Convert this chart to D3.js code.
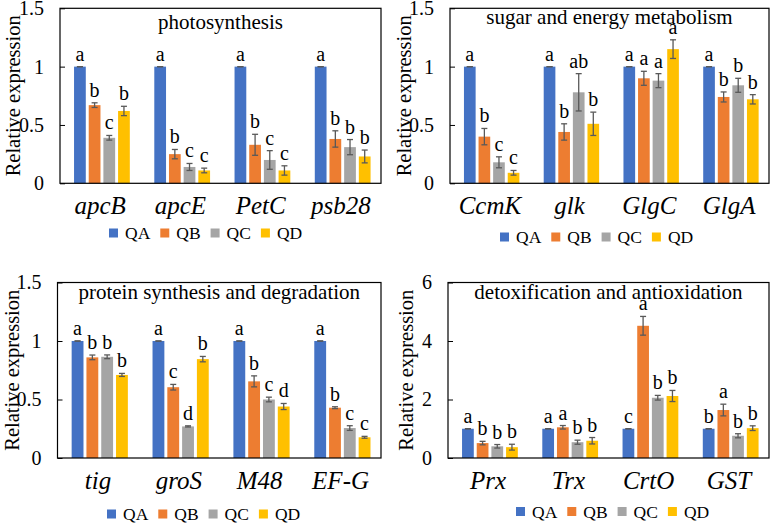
<!DOCTYPE html>
<html lang="en">
  <head>
    <meta charset="utf-8" />
    <script src="https://d3js.org/d3.v7.min.js"></script>
    <style>
      body {
        margin: 0;
        background-color: #fff;
      }
    </style>
  </head>
  <body>
    <div id="chart"></div>

    <script>
      const width = 777;
      const height = 523;
      const serif = '"Liberation Serif", "Times New Roman", serif';

      const treatments = ["QA", "QB", "QC", "QD"];
      const colors = ["#4472c4", "#ed7d31", "#a5a5a5", "#ffc000"];

      // photosynthesis
      const photoGenes = ["apcB", "apcE", "PetC", "psb28"];
      const photoMeans = [
        [1, 0.67, 0.39, 0.62],
        [1, 0.25, 0.14, 0.11],
        [1, 0.33, 0.2, 0.11],
        [1, 0.38, 0.31, 0.23]
      ];
      const photoErrs = [
        [0, 0.02, 0.02, 0.04],
        [0, 0.04, 0.03, 0.02],
        [0, 0.09, 0.08, 0.04],
        [0, 0.07, 0.065, 0.055]
      ];
      const photoLetters = [
        ["a", "b", "c", "b"],
        ["a", "b", "c", "c"],
        ["a", "b", "c", "c"],
        ["a", "b", "b", "b"]
      ];

      // sugar and energy metabolism
      const sugarGenes = ["CcmK", "glk", "GlgC", "GlgA"];
      const sugarMeans = [
        [1, 0.4, 0.18, 0.09],
        [1, 0.44, 0.78, 0.51],
        [1, 0.9, 0.88, 1.15],
        [1, 0.74, 0.84, 0.72]
      ];
      const sugarErrs = [
        [0, 0.07, 0.047, 0.02],
        [0, 0.07, 0.16, 0.1],
        [0, 0.06, 0.06, 0.08],
        [0, 0.043, 0.06, 0.04]
      ];
      const sugarLetters = [
        ["a", "b", "c", "c"],
        ["a", "b", "ab", "b"],
        ["a", "a", "a", "a"],
        ["a", "b", "b", "b"]
      ];

      // protein synthesis and degradation
      const proteinGenes = ["tig", "groS", "M48", "EF-G"];
      const proteinMeans = [
        [1, 0.86, 0.865, 0.71],
        [1, 0.605, 0.27, 0.845],
        [1, 0.655, 0.5, 0.44],
        [1, 0.43, 0.256, 0.177]
      ];
      const proteinErrs = [
        [0, 0.02, 0.016, 0.013],
        [0, 0.024, 0.005, 0.023],
        [0, 0.047, 0.02, 0.026],
        [0, 0.008, 0.02, 0.008]
      ];
      const proteinLetters = [
        ["a", "b", "b", "b"],
        ["a", "c", "d", "b"],
        ["a", "b", "c", "d"],
        ["a", "b", "c", "c"]
      ];

      // detoxification and antioxidation
      const detoxGenes = ["Prx", "Trx", "CrtO", "GST"];
      const detoxMeans = [
        [1, 0.51, 0.4, 0.37],
        [1, 1.05, 0.54, 0.59],
        [1, 4.52, 2.06, 2.12],
        [1, 1.64, 0.76, 1.02]
      ];
      const detoxErrs = [
        [0, 0.06, 0.06, 0.1],
        [0, 0.06, 0.07, 0.11],
        [0, 0.32, 0.08, 0.19],
        [0, 0.2, 0.07, 0.08]
      ];
      const detoxLetters = [
        ["a", "b", "b", "b"],
        ["a", "a", "b", "b"],
        ["c", "a", "b", "b"],
        ["b", "a", "b", "b"]
      ];

      const panels = [
        {
          title: "photosynthesis", genes: photoGenes, means: photoMeans,
          errs: photoErrs, letters: photoLetters, yMax: 1.5, ticks: [0, 0.5, 1, 1.5],
          x0: 60, x1: 381, top: 8.3, bottom: 183.3, titleY: 29, legendY: 233, legendX: 109, axTitleX: 13
        },
        {
          title: "sugar and energy metabolism", genes: sugarGenes, means: sugarMeans,
          errs: sugarErrs, letters: sugarLetters, yMax: 1.5, ticks: [0, 0.5, 1, 1.5],
          x0: 450, x1: 769, top: 8.3, bottom: 183.3, titleY: 24, legendY: 237, legendX: 500, axTitleX: 404
        },
        {
          title: "protein synthesis and degradation", genes: proteinGenes, means: proteinMeans,
          errs: proteinErrs, letters: proteinLetters, yMax: 1.5, ticks: [0, 0.5, 1, 1.5],
          x0: 57.5, x1: 381, top: 282.5, bottom: 458, titleY: 299, legendY: 514, legendX: 107, axTitleX: 12
        },
        {
          title: "detoxification and antioxidation", genes: detoxGenes, means: detoxMeans,
          errs: detoxErrs, letters: detoxLetters, yMax: 6, ticks: [0, 2, 4, 6],
          x0: 448, x1: 769, top: 282.5, bottom: 458, titleY: 299, legendY: 511.5, legendX: 516, axTitleX: 406
        }
      ];

      const svg = d3
        .select("#chart")
        .append("svg")
        .attr("width", width)
        .attr("height", height);

      panels.forEach((p) => drawPanel(p));

      function drawPanel(p) {
        const g = svg.append("g");

        const x = d3.scaleBand().domain(p.genes).range([p.x0, p.x1]);
        const bw = x.bandwidth();
        const xi = d3
          .scaleBand()
          .domain(treatments)
          .range([bw * 0.175, bw * 0.87])
          .paddingInner(0.2);
        const y = d3.scaleLinear().domain([0, p.yMax]).range([p.bottom, p.top]);

        // axe y, graduations vers l'intérieur
        const yAxis = d3
          .axisLeft(y)
          .tickValues(p.ticks)
          .tickFormat(d3.format("~g"))
          .tickSize(-5)
          .tickPadding(16);
        const ax = g
          .append("g")
          .attr("transform", `translate(${p.x0},0)`)
          .call(yAxis);
        ax.select(".domain").remove();
        ax.selectAll("line").attr("stroke", "#000");
        ax.selectAll("text")
          .attr("fill", "#000")
          .style("font-family", serif)
          .style("font-size", "20px");

        g.append("text")
          .attr("transform", `translate(${p.axTitleX},${(p.top + p.bottom) / 2}) rotate(-90)`)
          .attr("text-anchor", "middle")
          .attr("dy", "0.35em")
          .style("font-family", serif)
          .style("font-size", "20.5px")
          .text("Relative expression");

        const rows = [];
        p.genes.forEach((gene, i) => {
          treatments.forEach((t, j) => {
            rows.push({
              gene: gene,
              t: t,
              j: j,
              v: p.means[i][j],
              e: p.errs[i][j],
              l: p.letters[i][j]
            });
          });
        });

        const cx = (d) => x(d.gene) + xi(d.t) + xi.bandwidth() / 2;

        g.selectAll(".bar")
          .data(rows)
          .join("rect")
          .attr("class", "bar")
          .attr("x", (d) => x(d.gene) + xi(d.t))
          .attr("width", xi.bandwidth())
          .attr("y", (d) => y(d.v))
          .attr("height", (d) => y(0) - y(d.v))
          .attr("fill", (d) => colors[d.j]);

        // barres d'erreur
        const eb = g
          .selectAll(".err")
          .data(rows)
          .join("g")
          .attr("class", "err")
          .attr("stroke", "#595959")
          .attr("stroke-width", 1.3);
        eb.append("line")
          .attr("x1", cx)
          .attr("x2", cx)
          .attr("y1", (d) => y(d.v + d.e))
          .attr("y2", (d) => y(d.v - d.e));
        eb.append("line")
          .attr("x1", (d) => cx(d) - 3)
          .attr("x2", (d) => cx(d) + 3)
          .attr("y1", (d) => y(d.v + d.e))
          .attr("y2", (d) => y(d.v + d.e));
        eb.append("line")
          .attr("x1", (d) => cx(d) - 3)
          .attr("x2", (d) => cx(d) + 3)
          .attr("y1", (d) => y(d.v - d.e))
          .attr("y2", (d) => y(d.v - d.e));

        g.selectAll(".sig")
          .data(rows)
          .join("text")
          .attr("class", "sig")
          .attr("x", cx)
          .attr("y", (d) => y(d.v + d.e) - 6)
          .attr("text-anchor", "middle")
          .style("font-family", serif)
          .style("font-size", "20px")
          .text((d) => d.l);

        g.append("rect")
          .attr("x", p.x0)
          .attr("y", p.top)
          .attr("width", p.x1 - p.x0)
          .attr("height", p.bottom - p.top)
          .attr("fill", "none")
          .attr("stroke", "#000")
          .attr("stroke-width", 1.2);

        g.append("text")
          .attr("x", (p.x0 + p.x1) / 2)
          .attr("y", p.titleY)
          .attr("text-anchor", "middle")
          .style("font-family", serif)
          .style("font-size", "21px")
          .text(p.title);

        g.selectAll(".gene")
          .data(p.genes)
          .join("text")
          .attr("class", "gene")
          .attr("x", (d) => x(d) + bw / 2)
          .attr("y", p.bottom + 30.5)
          .attr("text-anchor", "middle")
          .style("font-family", serif)
          .style("font-size", "25px")
          .style("font-style", "italic")
          .text((d) => d);

        // légende, espacement selon la largeur du texte
        const lg = g
          .append("g")
          .attr("transform", `translate(${p.legendX},${p.legendY})`);
        let pos = 0;
        treatments.forEach((t, i) => {
          const item = lg.append("g").attr("transform", `translate(${pos},0)`);
          item.append("rect")
            .attr("x", 0)
            .attr("y", -4.5)
            .attr("width", 9)
            .attr("height", 9)
            .attr("fill", colors[i]);
          const txt = item.append("text")
            .attr("x", 16)
            .attr("dy", "0.35em")
            .style("font-family", serif)
            .style("font-size", "17.5px")
            .text(t);
          pos += 16 + txt.node().getComputedTextLength() + 10;
        });
      }
    </script>
  </body>
</html>
